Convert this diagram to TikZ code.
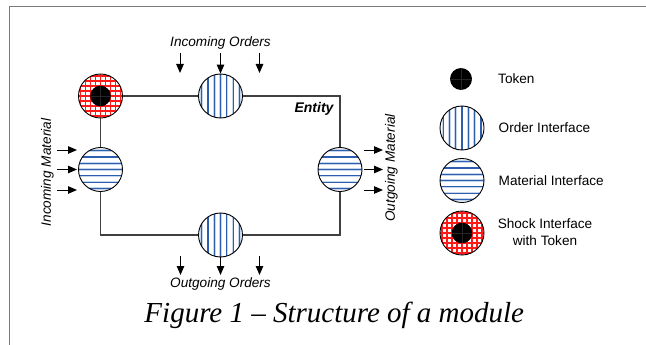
\documentclass[tikz,border=0pt]{standalone}
\usepackage{fontspec}
\setmainfont{Liberation Sans}
\newfontfamily\capfont{Liberation Serif}
\usetikzlibrary{arrows.meta}
\definecolor{stripe}{HTML}{2E5FAE}
\definecolor{stripelight}{HTML}{C4D5EC}
\definecolor{framegray}{HTML}{7A7A7A}
\definecolor{edgegray}{HTML}{404040}
\definecolor{shockred}{HTML}{FF1A1A}
\tikzset{
  iface/.style={circle, draw=black, line width=0.9pt, minimum size=44pt, inner sep=0pt, fill=white},
  orderif/.style={iface, path picture={
      \foreach \d in {-18.9,-12.6,-6.3,0,6.3,12.6,18.9}{
        \draw[stripelight, line width=2.6pt] ([xshift=\d pt,yshift=-30pt]path picture bounding box.center) -- ++(0,-60);
        \draw[stripe, line width=1.2pt] ([xshift=\d pt,yshift=-30pt]path picture bounding box.center) -- ++(0,-60);
      }}},
  materialif/.style={iface, path picture={
      \foreach \d in {-18.9,-12.6,-6.3,0,6.3,12.6,18.9}{
        \draw[stripelight, line width=2.6pt] ([yshift=\d pt,xshift=-30pt]path picture bounding box.center) -- ++(60,0);
        \draw[stripe, line width=1.2pt] ([yshift=\d pt,xshift=-30pt]path picture bounding box.center) -- ++(60,0);
      }}},
  shockif/.style={iface, path picture={
      \foreach \d in {-25,-20,...,25}{
        \draw[shockred, line width=1.2pt] ([xshift=\d pt,yshift=-30pt]path picture bounding box.center) -- ++(0,-60);
        \draw[shockred, line width=1.2pt] ([yshift=\d pt,xshift=-30pt]path picture bounding box.center) -- ++(60,0);
      }
      \fill[black] (path picture bounding box.center) circle (10.3pt);
      \draw[black!85, line width=0.4pt] ([xshift=-10pt]path picture bounding box.center) -- ++(20,0);
      \draw[black!85, line width=0.4pt] ([yshift=-10pt]path picture bounding box.center) -- ++(0,-20);
      }},
  token/.style={circle, fill=black, minimum size=22pt, inner sep=0pt, path picture={
      \draw[black!85, line width=0.4pt] ([xshift=-11pt]path picture bounding box.center) -- ++(22,0);
      \draw[black!85, line width=0.4pt] ([yshift=-11pt]path picture bounding box.center) -- ++(0,-22);
      }},
  edge/.style={draw=edgegray, line width=1.1pt},
  flow/.style={draw=black, line width=1pt, -{Triangle[length=9pt,width=7.5pt]}},
  lbl/.style={font=\fontsize{13.6}{16}\selectfont\itshape, inner sep=0pt},
  leg/.style={font=\fontsize{13.6}{17}\selectfont, inner sep=0pt},
}
\begin{document}
\begin{tikzpicture}[x=1pt,y=-1pt]
\useasboundingbox (0,0) rectangle (646,345);
% frame
\draw[framegray, line width=1.5pt] (9.3,345) -- (9.3,6.7) -- (646,6.7);
% interfaces
\node[shockif] (shock) at (100.5,96) {};
\node[orderif] (ordtop) at (220.5,96) {};
\node[orderif] (ordbot) at (220.5,235) {};
\node[materialif] (matleft) at (100.5,169.5) {};
\node[materialif] (matright) at (340,169.5) {};
% entity boundary
\draw[edge] (shock) -- (ordtop);
\draw[edge] (ordtop) -| (matright);
\draw[edge] (matright) |- (ordbot);
\draw[edge] (ordbot) -| (matleft);
\draw[edge] (matleft) -- (shock);
\node[font=\fontsize{14}{16}\selectfont\bfseries\itshape, inner sep=0pt] (entity) at (314,109) {Entity};
% incoming orders
\coordinate (io1s) at (180,53); \coordinate (io1e) at (180,73);
\coordinate (io2s) at (220.5,53);
\coordinate (io3s) at (259.5,53); \coordinate (io3e) at (259.5,73);
\draw[flow] (io1s) -- (io1e);
\draw[flow] (io2s) -- (ordtop.north);
\draw[flow] (io3s) -- (io3e);
\node[lbl] (inord) at (220.5,43) {Incoming Orders};
% outgoing orders
\coordinate (oo1s) at (180.5,256); \coordinate (oo1e) at (180.5,275);
\coordinate (oo2e) at (220.5,275);
\coordinate (oo3s) at (259.5,256); \coordinate (oo3e) at (259.5,275);
\draw[flow] (oo1s) -- (oo1e);
\draw[flow] (ordbot.south) -- (oo2e);
\draw[flow] (oo3s) -- (oo3e);
\node[lbl] (outord) at (220.5,284) {Outgoing Orders};
% incoming material
\foreach \y/\n in {150/1,169.5/2,190/3}{
  \coordinate (im\n s) at (57,\y); \coordinate (im\n e) at (77,\y);
  \draw[flow] (im\n s) -- (im\n e);
}
\node[lbl, rotate=90] (inmat) at (47.4,172.5) {Incoming Material};
% outgoing material
\foreach \y/\n in {150/1,169.5/2,190/3}{
  \coordinate (om\n s) at (364,\y); \coordinate (om\n e) at (383,\y);
  \draw[flow] (om\n s) -- (om\n e);
}
\node[lbl, rotate=90] (outmat) at (391.4,168) {Outgoing Material};
% legend
\node[token] (legtoken) at (461,79) {};
\node[leg, anchor=west] (legtokentxt) at (498,79) {Token};
\node[orderif] (legorder) at (462,128) {};
\node[leg, anchor=west] (legordertxt) at (498.5,128) {Order Interface};
\node[materialif] (legmat) at (462,180.5) {};
\node[leg, anchor=west] (legmattxt) at (498.5,181) {Material Interface};
\node[shockif] (legshock) at (462,233) {};
\node[leg, align=center] (legshocktxt) at (545,232.5) {Shock Interface\\with Token};
% caption
\node[font=\fontsize{29}{32}\selectfont\capfont\itshape, inner sep=0pt] (caption) at (334.3,315) {Figure 1 – Structure of a module};
\end{tikzpicture}
\end{document}
